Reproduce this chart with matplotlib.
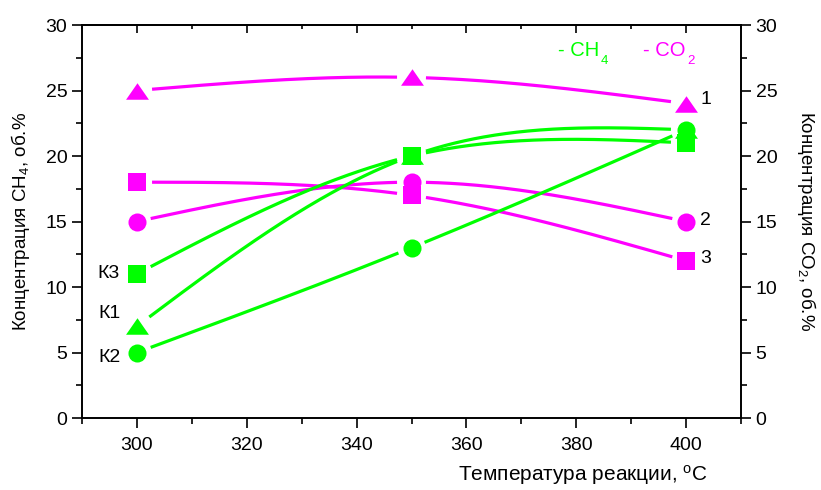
import numpy as np
import matplotlib
matplotlib.use("Agg")
import matplotlib.pyplot as plt
from matplotlib.path import Path
from matplotlib.transforms import offset_copy

plt.rcParams['font.family'] = ['Liberation Sans', 'DejaVu Sans']
plt.rcParams['mathtext.fontset'] = 'custom'
plt.rcParams['mathtext.rm'] = 'Liberation Sans'
plt.rcParams['mathtext.it'] = 'Liberation Sans'

# ---- data ----
temps = [300, 350, 400]
ch4_k1 = [7, 20, 22]
ch4_k2 = [5, 13, 22]
ch4_k3 = [11, 20, 21]
co2_1 = [25, 26, 24]
co2_2 = [15, 18, 15]
co2_3 = [18, 17, 12]
ch4_labels = ['К1', 'К2', 'К3']
co2_labels = ['1', '2', '3']
x_ticks = [300, 320, 340, 360, 380, 400]
y_ticks = [0, 5, 10, 15, 20, 25, 30]

GREEN = '#00ff00'
MAGENTA = '#ff00ff'

W, H = 821, 490
fig = plt.figure(figsize=(W / 100, H / 100), dpi=100)
L, R, B, T = 82, 741, 418, 25
ax = fig.add_axes([L / W, 1 - B / H, (R - L) / W, (B - T) / H])
XMIN, XMAX, YMIN, YMAX = 290, 410, 0, 30
ax.set_xlim(XMIN, XMAX)
ax.set_ylim(YMIN, YMAX)

sx = (R - L) / (XMAX - XMIN)
sy = (B - T) / (YMAX - YMIN)


def natural_spline(xs, ys, n=400):
    xs = np.asarray(xs, float)
    ys = np.asarray(ys, float)
    k = len(xs)
    h = np.diff(xs)
    A = np.zeros((k, k))
    rhs = np.zeros(k)
    A[0, 0] = A[-1, -1] = 1
    for i in range(1, k - 1):
        A[i, i - 1] = h[i - 1]
        A[i, i] = 2 * (h[i - 1] + h[i])
        A[i, i + 1] = h[i]
        rhs[i] = 6 * ((ys[i + 1] - ys[i]) / h[i] - (ys[i] - ys[i - 1]) / h[i - 1])
    M = np.linalg.solve(A, rhs)
    xx = np.linspace(xs[0], xs[-1], n)
    yy = np.empty_like(xx)
    for j, xv in enumerate(xx):
        i = min(np.searchsorted(xs, xv, side='right') - 1, k - 2)
        t0 = xs[i + 1] - xv
        t1 = xv - xs[i]
        hi = h[i]
        yy[j] = (M[i] * t0 ** 3 / (6 * hi) + M[i + 1] * t1 ** 3 / (6 * hi)
                 + (ys[i] / hi - M[i] * hi / 6) * t0
                 + (ys[i + 1] / hi - M[i + 1] * hi / 6) * t1)
    return xx, yy


def draw_series(xs, ys, color, marker, ms, gap=14):
    xx, yy = natural_spline(xs, ys)
    d = np.full(xx.shape, np.inf)
    for xv, yv in zip(xs, ys):
        d = np.minimum(d, np.hypot((xx - xv) * sx, (yy - yv) * sy))
    yy = np.where(d > gap, yy, np.nan)
    ax.plot(xx, yy, color=color, lw=2.3, solid_capstyle='butt', zorder=2)
    ax.plot(xs, ys, ls='none', marker=marker, ms=ms, color=color,
            markeredgewidth=0, zorder=3)


tri = Path([(0, 0.72), (-1, -0.72), (1, -0.72), (0, 0.72)],
           [Path.MOVETO, Path.LINETO, Path.LINETO, Path.CLOSEPOLY])

draw_series(temps, co2_1, MAGENTA, tri, 16.5)
draw_series(temps, co2_2, MAGENTA, 'o', 13)
draw_series(temps, co2_3, MAGENTA, 's', 12.5)
draw_series(temps, ch4_k2, GREEN, 'o', 13)
draw_series(temps, ch4_k3, GREEN, 's', 12.5)
draw_series(temps, ch4_k1, GREEN, tri, 16.5)

# labels near markers
fs_lab = 14
ax.text(temps[0] - 3.2, ch4_k3[0], ch4_labels[2], ha='right', va='center', fontsize=fs_lab)
ax.text(temps[0] - 3.0, ch4_k1[0] + 1.0, ch4_labels[0], ha='right', va='center', fontsize=fs_lab)
ax.text(temps[0] - 3.0, ch4_k2[0] - 0.4, ch4_labels[1], ha='right', va='center', fontsize=fs_lab)
ax.text(temps[2] + 2.6, co2_1[2] + 0.3, co2_labels[0], ha='left', va='center', fontsize=fs_lab)
ax.text(temps[2] + 2.6, co2_2[2] + 0.1, co2_labels[1], ha='left', va='center', fontsize=fs_lab)
ax.text(temps[2] + 2.6, co2_3[2] + 0.2, co2_labels[2], ha='left', va='center', fontsize=fs_lab)

# legend-like text with low subscripts
fig.canvas.draw()
renderer = fig.canvas.get_renderer()


def text_with_sub(x, y, main, sub, color):
    t = ax.text(x, y, main, color=color, fontsize=14.5, ha='left', va='baseline')
    bb = t.get_window_extent(renderer)
    inv = ax.transData.inverted()
    xd, _ = inv.transform((bb.x1 + 1.5, bb.y0))
    ax.text(xd, y, sub, color=color, fontsize=9.5, ha='left', va='baseline',
            transform=offset_copy(ax.transData, fig=fig, x=0, y=-8, units='dots'))


text_with_sub(376.7, 27.6, '- CH', '4', GREEN)
text_with_sub(392.2, 27.6, '- CO', '2', MAGENTA)

# axes styling
for s in ax.spines.values():
    s.set_linewidth(1.2)
ax.set_xticks(x_ticks)
ax.set_xticks(np.arange(290, 411, 10), minor=True)
ax.set_yticks(y_ticks)
ax.set_yticks(np.arange(0, 31, 2.5), minor=True)
ax.tick_params(axis='both', which='major', direction='out', length=7, width=1.2, labelsize=14)
ax.tick_params(axis='both', which='minor', direction='out', length=4, width=1.2)
ax.tick_params(axis='x', pad=7)
ax.tick_params(right=False, top=False)

top = ax.secondary_xaxis('top')
top.set_xticks(x_ticks)
top.set_xticks(np.arange(290, 411, 10), minor=True)
top.tick_params(which='major', direction='in', length=6, width=1.2, labeltop=False)
top.tick_params(which='minor', direction='in', length=3, width=1.2)
top.spines['top'].set_linewidth(1.2)

axr = ax.twinx()
axr.set_ylim(YMIN, YMAX)
axr.set_yticks(y_ticks)
axr.set_yticks(np.arange(0, 31, 2.5), minor=True)
axr.tick_params(which='major', direction='out', length=7, width=1.2, labelsize=14)
axr.tick_params(which='minor', direction='out', length=4, width=1.2)
for s in axr.spines.values():
    s.set_linewidth(1.2)

ax.set_ylabel(r'Концентрация CH$_\mathregular{4}$, об.%', fontsize=13.5,
              rotation=90, ha='center', va='center')
ax.yaxis.set_label_coords(-0.094, 0.5)
axr.set_ylabel(r'Концентрация CO$_\mathregular{2}$, об.%', fontsize=13.5,
               rotation=270, ha='center', va='center')
axr.yaxis.set_label_coords(1.1, 0.5)
ax.set_xlabel(r'Температура реакции, $^\mathregular{o}$C', fontsize=15)
ax.xaxis.set_label_coords(0.76, -0.115)

fig.savefig('out.png', dpi=100)
